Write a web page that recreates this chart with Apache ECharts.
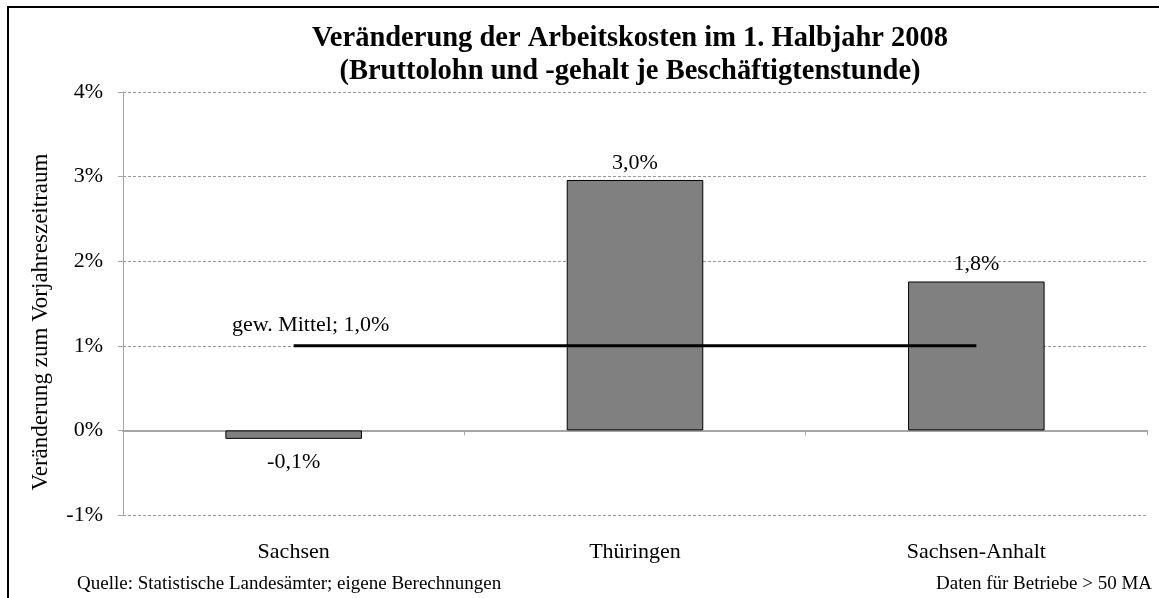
<!DOCTYPE html>
<html>
<head>
<meta charset="utf-8">
<script src="https://cdn.jsdelivr.net/npm/echarts@6/dist/echarts.min.js"></script>
<style>
    html, body { margin: 0; padding: 0; background: #fff; }
    #chart { width: 1159px; height: 598px; }
</style>
</head>
<body>
<div id="chart"></div>
<script>
    var categories = ['Sachsen', 'Thüringen', 'Sachsen-Anhalt'];
    var changeValues = [-0.1, 2.96, 1.76];
    var meanValues = [1.0, 1.0, 1.0];
    var meanLabel = 'gew. Mittel; 1,0%';
    var yTicks = [-1, 0, 1, 2, 3, 4];
    var titleLines = [
        'Veränderung der Arbeitskosten im 1. Halbjahr 2008',
        '(Bruttolohn und -gehalt je Beschäftigtenstunde)'
    ];

    var serif = '"Liberation Serif", "Times New Roman", serif';

    function pct(v) {
        return v.toFixed(1).replace('.', ',') + '%';
    }

    var chart = echarts.init(document.getElementById('chart'));

    chart.setOption({
        animation: false,
        backgroundColor: '#fff',
        textStyle: { fontFamily: serif, color: '#000' },
        graphic: [
            {
                type: 'rect',
                shape: { x: 8, y: 7, width: 1200, height: 700 },
                style: { fill: 'none', stroke: '#000', lineWidth: 2 },
                silent: true
            },
            {
                // title, centred over the plot area
                type: 'text',
                x: 630,
                y: 22,
                style: {
                    text: titleLines.join('\n'),
                    font: 'bold 28.5px ' + serif,
                    fill: '#000',
                    align: 'center',
                    verticalAlign: 'top',
                    lineHeight: 33
                }
            },
            {
                type: 'text',
                x: 41,
                y: 322,
                rotation: Math.PI / 2,
                style: {
                    text: 'Veränderung zum Vorjahreszeitraum',
                    font: '23px ' + serif,
                    fill: '#000',
                    align: 'center',
                    verticalAlign: 'middle'
                }
            },
            {
                type: 'text',
                left: 77,
                top: 575,
                style: { text: 'Quelle: Statistische Landesämter; eigene Berechnungen', font: '19px ' + serif, fill: '#000' }
            },
            {
                type: 'text',
                right: 7,
                top: 575,
                style: { text: 'Daten für Betriebe > 50 MA', font: '19px ' + serif, fill: '#000' }
            }
        ],
        grid: { left: 123, right: 12, top: 92, bottom: 83 },
        xAxis: [
            {
                type: 'category',
                data: categories,
                axisLine: { onZero: true, lineStyle: { color: '#a6a6a6', width: 2 } },
                axisTick: { show: true, length: 5, lineStyle: { color: '#a6a6a6' } },
                axisLabel: { show: false },
                splitLine: { show: false }
            },
            {
                type: 'category',
                data: categories,
                position: 'bottom',
                axisLine: { show: false, onZero: false },
                axisTick: { show: false },
                axisLabel: { show: true, margin: 26, fontSize: 22, fontFamily: serif, color: '#000' },
                splitLine: { show: false }
            }
        ],
        yAxis: {
            type: 'value',
            min: yTicks[0],
            max: yTicks[yTicks.length - 1],
            interval: 1,
            axisLine: { show: true, lineStyle: { color: '#a6a6a6', width: 1 } },
            axisTick: { show: true, length: 5, lineStyle: { color: '#a6a6a6' } },
            axisLabel: {
                margin: 20,
                fontSize: 22,
                fontFamily: serif,
                color: '#000',
                formatter: '{value}%'
            },
            splitLine: { show: true, lineStyle: { color: '#9a9a9a', type: [3, 2], width: 1 } }
        },
        series: [
            {
                type: 'bar',
                xAxisIndex: 0,
                data: changeValues.map(function (v) {
                    return { value: v, label: { distance: v < 0 ? 12 : 6 } };
                }),
                barWidth: '40%',
                itemStyle: { color: '#808080', borderColor: '#000', borderWidth: 1 },
                label: {
                    show: true,
                    position: 'outside',
                    fontSize: 22,
                    fontFamily: serif,
                    color: '#000',
                    formatter: function (p) { return pct(p.value); }
                }
            },
            {
                type: 'line',
                xAxisIndex: 0,
                data: meanValues.map(function (v, i) {
                    if (i === 0) {
                        return {
                            value: v,
                            label: {
                                show: true,
                                position: 'top',
                                offset: [17, -5],
                                fontSize: 22,
                                fontFamily: serif,
                                color: '#000',
                                formatter: meanLabel
                            }
                        };
                    }
                    return v;
                }),
                symbol: 'circle',
                symbolSize: 0,
                showSymbol: true,
                label: { show: false },
                lineStyle: { color: '#000', width: 3 },
                z: 5
            }
        ]
    });
</script>
</body>
</html>
